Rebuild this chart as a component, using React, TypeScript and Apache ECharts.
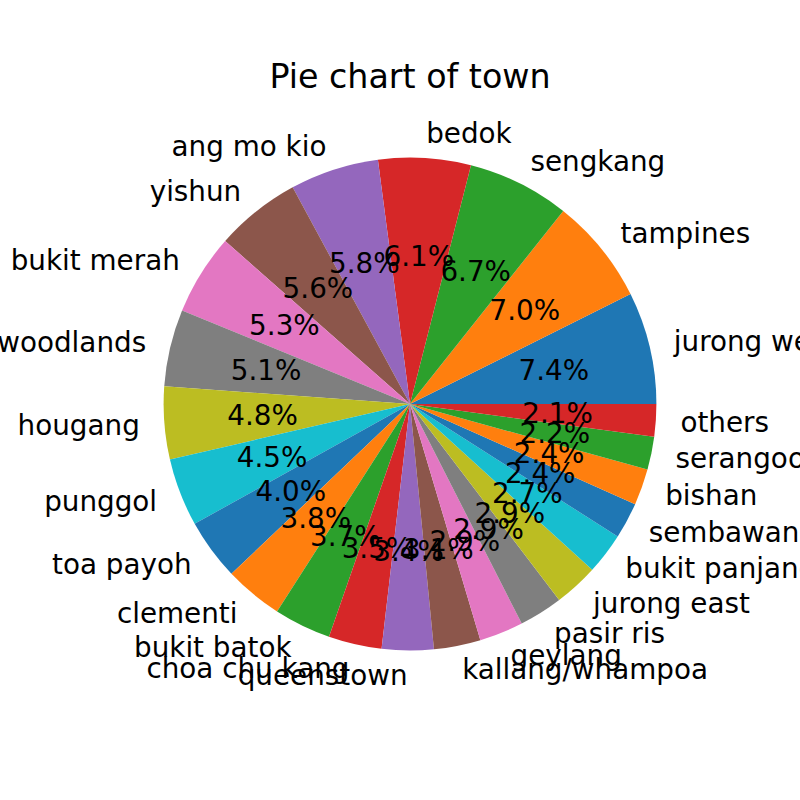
import React, { useEffect, useRef } from "react";
import * as echarts from "echarts";

const titleText = "Pie chart of town";
const towns = [
  "jurong west", "tampines", "sengkang", "bedok", "ang mo kio", "yishun",
  "bukit merah", "woodlands", "hougang", "punggol", "toa payoh", "clementi",
  "bukit batok", "choa chu kang", "queenstown", "kallang/whampoa", "geylang",
  "pasir ris", "jurong east", "bukit panjang", "sembawang", "bishan",
  "serangoon", "others",
];
// estimated share of each town (percent)
const shares = [
  7.36, 6.96, 6.7, 6.06, 5.82, 5.6, 5.3, 5.06, 4.76, 4.46, 4.02, 3.83, 3.74,
  3.49, 3.39, 3.06, 2.88, 2.86, 2.9, 2.71, 2.38, 2.37, 2.17, 2.12,
];
const palette = [
  "#1f77b4", "#ff7f0e", "#2ca02c", "#d62728", "#9467bd",
  "#8c564b", "#e377c2", "#7f7f7f", "#bcbd22", "#17becf",
];

const FONT = "DejaVu Sans";
const LABEL_SIZE = 27.8;
const R = 246.4;
const CX = 410;
const CY = 404;

export default function App() {
  const ref = useRef<HTMLDivElement>(null);
  useEffect(() => {
    if (!ref.current) return;
    const chart = echarts.init(ref.current, undefined, { renderer: "svg" });
    const data = towns.map((n, i) => ({ name: n, value: shares[i] }));
    const total = shares.reduce((a, b) => a + b, 0);
    chart.setOption({
      animation: false,
      color: palette,
      graphic: [
        {
          type: "text",
          x: CX,
          y: 76,
          style: {
            text: titleText,
            align: "center",
            verticalAlign: "middle",
            fontFamily: FONT,
            fontSize: 33.3,
            fill: "#000",
          },
        },
      ],
      series: [
        {
          type: "pie",
          center: [CX, CY],
          radius: R,
          startAngle: 0,
          clockwise: false,
          avoidLabelOverlap: false,
          silent: true,
          itemStyle: { borderWidth: 0 },
          label: {
            show: true,
            position: "outside",
            formatter: "{b}",
            color: "#000",
            fontFamily: FONT,
            fontSize: LABEL_SIZE,
            distanceToLabelLine: 0,
          },
          labelLayout: { hideOverlap: false },
          labelLine: { show: false, length: R * 0.1, length2: 0 },
          data,
        },
        {
          type: "pie",
          center: [CX, CY],
          radius: [R * 0.2 - 6, R],
          startAngle: 0,
          clockwise: false,
          avoidLabelOverlap: false,
          silent: true,
          itemStyle: { color: "rgba(0,0,0,0)", borderWidth: 0 },
          label: {
            show: true,
            position: "inside",
            formatter: (p: any) =>
              ((Number(p.value) / total) * 100).toFixed(1) + "%",
            color: "#000",
            opacity: 1,
            fontFamily: FONT,
            fontSize: LABEL_SIZE,
          },
          labelLayout: { hideOverlap: false },
          labelLine: { show: false },
          data,
        },
      ],
    });
    return () => chart.dispose();
  }, []);
  return (
    <div
      ref={ref}
      style={{ position: "absolute", left: 0, top: 0, width: 800, height: 800 }}
    />
  );
}
